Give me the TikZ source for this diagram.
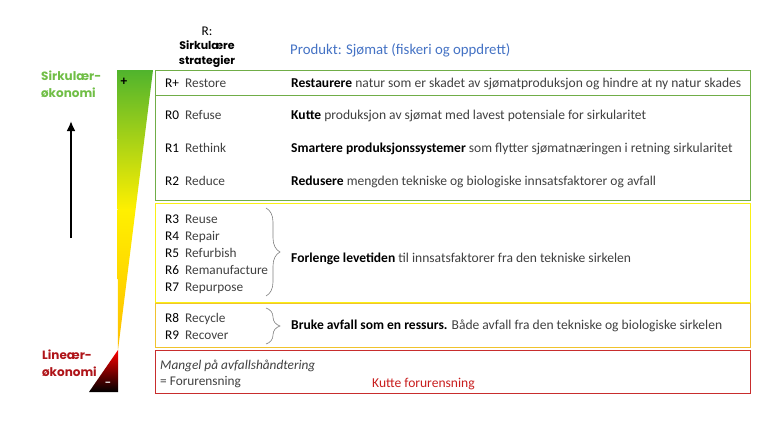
\documentclass[tikz,border=0pt]{standalone}
\usepackage{fontspec}
\setmainfont{Carlito}
\newfontfamily\gothic{Poppins}
\usepackage{tikz}
\usetikzlibrary{arrows.meta,positioning,decorations.pathreplacing}
\definecolor{grboks}{RGB}{112,173,71}
\definecolor{gulboks}{RGB}{250,240,20}
\definecolor{gullboks}{RGB}{240,195,45}
\definecolor{rodboks}{RGB}{200,45,45}
\definecolor{tekstgraa}{RGB}{64,64,64}
\definecolor{blaatittel}{RGB}{68,114,196}
\definecolor{sirkgronn}{RGB}{112,190,70}
\definecolor{linrod}{RGB}{175,20,25}
\definecolor{kutterod}{RGB}{200,30,30}
\definecolor{kilegronn}{RGB}{80,180,45}
\definecolor{kilegul}{RGB}{255,240,0}
\definecolor{kileoransje}{RGB}{255,190,0}
\newcommand{\brod}{\fontsize{13.3}{16}\selectfont}
\newcommand{\brodstor}{\fontsize{13.55}{16}\selectfont}
\newcommand{\uth}[1]{\textbf{\color{black}#1}}
\newcommand{\rkode}[2]{\makebox[20pt][l]{\color{black}#1}#2}

\begin{document}
\begin{tikzpicture}[x=1pt, y=-1pt, font=\brod,
  box/.style={draw, line width=1.3pt, minimum width=595pt, anchor=north west, inner sep=0pt},
  rlab/.style={anchor=west, inner sep=0pt, text height=9pt, text depth=3pt, text=tekstgraa},
  desc/.style={rlab, font=\brodstor},
  venstrelab/.style={anchor=west, align=left, inner sep=0pt, font=\gothic\bfseries\fontsize{12}{17}\selectfont},
  klamme/.style={draw=gray, line width=0.6pt, decorate, decoration={brace, amplitude=14pt}}]
  \useasboundingbox (0,0) rectangle (775,428);

  % fargekile
  \shade[top color=kilegronn, bottom color=kileoransje, middle color=kilegul]
    (117,70) -- (153,70) -- (118,350) -- cycle;
  \shade[top color=red, bottom color=black] (118,350) -- (89,392) -- (118,392) -- cycle;
  \node (pluss) [font=\brod\bfseries] at (124,82) {+};
  \node (minus) [text=white, font=\brod\bfseries] at (108,384) {--};

  \node (sirkulaer) [venstrelab, text=sirkgronn] at (41,84) {Sirkulær-\\økonomi};
  \node (lineaer) [venstrelab, text=linrod] at (42,363) {Lineær-\\økonomi};
  \coordinate (pilbunn) at (71,238);
  \coordinate (piltopp) at (71,121);
  \draw[-{Latex[length=10pt,width=9pt]}, line width=2.8pt] (pilbunn) -- (piltopp);

  % overskrifter
  \node (rkolon) [inner sep=0pt] at (207,31) {R:};
  \node (strategier) [below=5pt of rkolon, align=center, inner sep=0pt,
    font=\gothic\bfseries\fontsize{11}{14.5}\selectfont] {Sirkulære\\strategier};
  \node (produkt) [anchor=west, inner sep=0pt, text=blaatittel, font=\fontsize{14.8}{18}\selectfont]
    at (290,50) {Produkt: Sjømat (fiskeri og oppdrett)};

  % bokser
  \node (boksplus) [box, draw=grboks, minimum height=25pt] at (155,70) {};
  \node (boksrethink) [box, draw=grboks, minimum height=105pt] at (155,95) {};
  \node (boksreuse) [box, draw=gulboks, minimum height=99pt] at (155,203) {};
  \node (boksrecycle) [box, draw=gullboks, minimum height=44pt] at (155,303) {};
  \node (boksavfall) [box, draw=rodboks, minimum height=43pt] at (155,350) {};

  % R-strategier
  \node (rplus) [rlab] at (165,84) {\rkode{R+}{Restore}};
  \node (r0) [rlab] at (165,116) {\rkode{R0}{Refuse}};
  \node (r1) [rlab] at (165,149) {\rkode{R1}{Rethink}};
  \node (r2) [rlab] at (165,182) {\rkode{R2}{Reduce}};
  \node (r3) [rlab] at (165,220) {\rkode{R3}{Reuse}};
  \node (r4) [rlab, below=4.6pt of r3.south west, anchor=north west] {\rkode{R4}{Repair}};
  \node (r5) [rlab, below=4.6pt of r4.south west, anchor=north west] {\rkode{R5}{Refurbish}};
  \node (r6) [rlab, below=4.6pt of r5.south west, anchor=north west] {\rkode{R6}{Remanufacture}};
  \node (r7) [rlab, below=4.6pt of r6.south west, anchor=north west] {\rkode{R7}{Repurpose}};
  \node (r8) [rlab] at (165,319) {\rkode{R8}{Recycle}};
  \node (r9) [rlab, below=4.6pt of r8.south west, anchor=north west] {\rkode{R9}{Recover}};

  \coordinate (klamme1a) at (266,208);
  \coordinate (klamme1b) at (266,296);
  \coordinate (klamme2a) at (266,308);
  \coordinate (klamme2b) at (266,344);
  \draw[klamme] (klamme1a) -- (klamme1b);
  \draw[klamme] (klamme2a) -- (klamme2b);

  % beskrivelser
  \node (dplus) [desc] at (291,84)
    {\uth{Restaurere} natur som er skadet av sjømatproduksjon og hindre at ny natur skades};
  \node (d0) [desc] at (291,116) {\uth{Kutte} produksjon av sjømat med lavest potensiale for sirkularitet};
  \node (d1) [desc] at (291,149)
    {\uth{Smartere produksjonssystemer} som flytter sjømatnæringen i retning sirkularitet};
  \node (d2) [desc] at (291,182) {\uth{Redusere} mengden tekniske og biologiske innsatsfaktorer og avfall};
  \node (d37) [desc] at (291,259) {\uth{Forlenge levetiden} til innsatsfaktorer fra den tekniske sirkelen};
  \node (d89) [desc] at (291,326)
    {\uth{Bruke avfall som en ressurs.} Både avfall fra den tekniske og biologiske sirkelen};

  \node (mangel) [rlab, font=\brod\itshape] at (160,366) {Mangel på avfallshåndtering};
  \node (forurensning) [rlab, below=4pt of mangel.south west, anchor=north west] {= Forurensning};
  \node (kutteforur) [desc, text=kutterod] at (372,384) {Kutte forurensning};
\end{tikzpicture}
\end{document}
